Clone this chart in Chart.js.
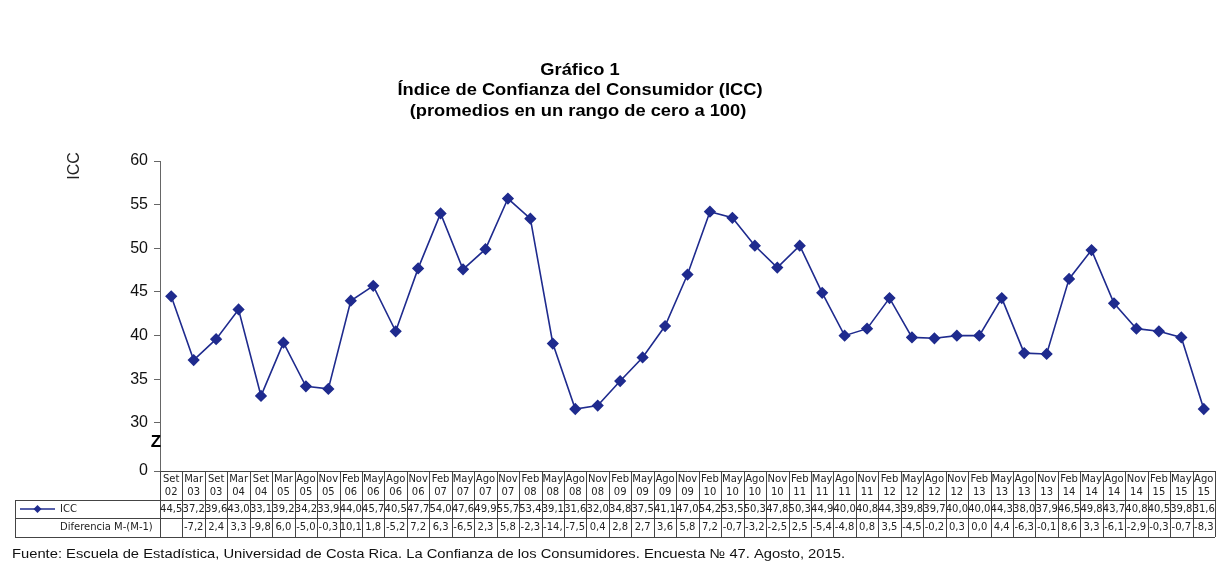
<!DOCTYPE html>
<html lang="es">
<head>
<meta charset="UTF-8">
<title>Índice de Confianza del Consumidor</title>
<script src="https://cdn.jsdelivr.net/npm/chart.js"></script>
<style>
    * { margin: 0; padding: 0; box-sizing: border-box; }
    body { width: 1232px; height: 574px; background: #ffffff; overflow: hidden; }
    #wrap { position: absolute; left: 0; top: 0; width: 1232px; height: 574px; }
</style>
</head>
<body>
<div id="wrap"><canvas id="iccChart"></canvas></div>
<script>
// periodos (mes año) del eje horizontal
const periodos = ['Set 02','Mar 03','Set 03','Mar 04','Set 04','Mar 05','Ago 05','Nov 05',
    'Feb 06','May 06','Ago 06','Nov 06','Feb 07','May 07','Ago 07','Nov 07',
    'Feb 08','May 08','Ago 08','Nov 08','Feb 09','May 09','Ago 09','Nov 09',
    'Feb 10','May 10','Ago 10','Nov 10','Feb 11','May 11','Ago 11','Nov 11',
    'Feb 12','May 12','Ago 12','Nov 12','Feb 13','May 13','Ago 13','Nov 13',
    'Feb 14','May 14','Ago 14','Nov 14','Feb 15','May 15','Ago 15'];

const icc = [44.5, 37.2, 39.6, 43.0, 33.1, 39.2, 34.2, 33.9,
    44.0, 45.7, 40.5, 47.7, 54.0, 47.6, 49.9, 55.7,
    53.4, 39.1, 31.6, 32.0, 34.8, 37.5, 41.1, 47.0,
    54.2, 53.5, 50.3, 47.8, 50.3, 44.9, 40.0, 40.8,
    44.3, 39.8, 39.7, 40.0, 40.0, 44.3, 38.0, 37.9,
    46.5, 49.8, 43.7, 40.8, 40.5, 39.8, 31.6];

// diferencia respecto al periodo anterior, tal como aparece en la tabla
const diferencia = ['', '-7,2', '2,4', '3,3', '-9,8', '6,0', '-5,0', '-0,3',
    '10,1', '1,8', '-5,2', '7,2', '6,3', '-6,5', '2,3', '5,8',
    '-2,3', '-14,', '-7,5', '0,4', '2,8', '2,7', '3,6', '5,8',
    '7,2', '-0,7', '-3,2', '-2,5', '2,5', '-5,4', '-4,8', '0,8',
    '3,5', '-4,5', '-0,2', '0,3', '0,0', '4,4', '-6,3', '-0,1',
    '8,6', '3,3', '-6,1', '-2,9', '-0,3', '-0,7', '-8,3'];

// eje vertical cortado: 0 y luego de 30 a 60
const yTicks = [30, 35, 40, 45, 50, 55, 60];
const yCero = 24.5;

const azul = '#1f2b8e';
const tablaFont = '10px "DejaVu Sans"';

// texto estirado en horizontal (el original esta ensanchado)
function textoAncho(ctx, txt, x, y, escala, align) {
    ctx.save();
    ctx.translate(x, y);
    ctx.scale(escala, 1);
    ctx.textAlign = align;
    ctx.fillText(txt, 0, 0);
    ctx.restore();
}

const tablaPlugin = {
    id: 'tabla',
    afterDraw(chart) {
        const ctx = chart.ctx;
        const x = chart.scales.x;
        const area = chart.chartArea;
        const colW = (area.right - area.left) / periodos.length;
        const yHead = area.bottom, yRow1 = 500, yRow2 = 518, yEnd = 537;
        const tLeft = 15;

        ctx.save();
        // titulos
        ctx.fillStyle = '#000';
        ctx.textBaseline = 'middle';
        ctx.font = 'bold 16px "Liberation Sans", Arial, sans-serif';
        const linea2 = 'Índice de Confianza del Consumidor (ICC)';
        const esc = 365 / ctx.measureText(linea2).width;
        textoAncho(ctx, 'Gráfico 1', 580, 71, esc, 'center');
        textoAncho(ctx, linea2, 580, 91, esc, 'center');
        textoAncho(ctx, '(promedios en un rango de cero a 100)', 578, 112, esc, 'center');

        // titulo del eje
        ctx.save();
        ctx.translate(75, 166);
        ctx.rotate(-Math.PI / 2);
        ctx.textAlign = 'center';
        ctx.font = '16px "Liberation Sans", Arial, sans-serif';
        ctx.fillStyle = '#222';
        ctx.fillText('ICC', 0, 0);
        ctx.restore();

        // marca de corte
        ctx.textAlign = 'center';
        ctx.font = 'bold 17px "Liberation Sans", Arial, sans-serif';
        ctx.fillStyle = '#000';
        ctx.fillText('Z', 156, 442);

        // rejilla de la tabla
        ctx.strokeStyle = '#444';
        ctx.lineWidth = 1;
        ctx.beginPath();
        ctx.moveTo(area.left, yHead + 0.5); ctx.lineTo(area.right, yHead + 0.5);
        ctx.moveTo(tLeft, yRow1 + 0.5); ctx.lineTo(area.right, yRow1 + 0.5);
        ctx.moveTo(tLeft, yRow2 + 0.5); ctx.lineTo(area.right, yRow2 + 0.5);
        ctx.moveTo(tLeft, yEnd + 0.5); ctx.lineTo(area.right, yEnd + 0.5);
        ctx.moveTo(tLeft + 0.5, yRow1); ctx.lineTo(tLeft + 0.5, yEnd);
        ctx.moveTo(area.left + 0.5, yHead); ctx.lineTo(area.left + 0.5, yEnd);
        for (let i = 0; i < periodos.length; i++) {
            const xr = Math.round(x.getPixelForValue(i) + colW / 2) + 0.5;
            ctx.moveTo(xr, yHead); ctx.lineTo(xr, yEnd);
        }
        ctx.stroke();

        // textos de la tabla
        ctx.font = tablaFont;
        ctx.fillStyle = '#222';
        periodos.forEach((p, i) => {
            const cx = x.getPixelForValue(i);
            const partes = p.split(' ');
            ctx.fillText(partes[0], cx, 479);
            ctx.fillText(partes[1], cx, 492);
            ctx.fillText(icc[i].toFixed(1).replace('.', ','), cx, 509.5);
            ctx.fillText(diferencia[i], cx, 527.5);
        });

        // leyenda de filas
        ctx.strokeStyle = azul;
        ctx.lineWidth = 1.5;
        ctx.beginPath();
        ctx.moveTo(20, 509); ctx.lineTo(55, 509);
        ctx.stroke();
        ctx.fillStyle = azul;
        ctx.beginPath();
        ctx.moveTo(37.5, 505); ctx.lineTo(41.5, 509); ctx.lineTo(37.5, 513); ctx.lineTo(33.5, 509);
        ctx.closePath();
        ctx.fill();
        ctx.fillStyle = '#222';
        ctx.textAlign = 'left';
        ctx.fillText('ICC', 60, 509.5);
        ctx.fillText('Diferencia M-(M-1)', 60, 527.5);

        // fuente
        ctx.font = '13px "Liberation Sans", Arial, sans-serif';
        ctx.fillStyle = '#111';
        ctx.textBaseline = 'alphabetic';
        const fuente = 'Fuente: Escuela de Estadística, Universidad de Costa Rica. La Confianza de los Consumidores. Encuesta № 47. Agosto, 2015.';
        const escF = 833 / ctx.measureText(fuente).width;
        textoAncho(ctx, fuente, 12, 558, escF, 'left');
        ctx.restore();
    }
};

new Chart(document.getElementById('iccChart'), {
    type: 'line',
    data: {
        labels: periodos,
        datasets: [{
            label: 'ICC',
            data: icc,
            borderColor: azul,
            backgroundColor: azul,
            borderWidth: 1.6,
            pointStyle: 'rectRot',
            pointRadius: 5,
            pointHoverRadius: 5,
            tension: 0
        }]
    },
    options: {
        responsive: true,
        maintainAspectRatio: false,
        animation: false,
        layout: { padding: { top: 161, right: 17, bottom: 103, left: 0 } },
        plugins: {
            legend: { display: false },
            tooltip: { enabled: false }
        },
        scales: {
            x: {
                type: 'category',
                display: false,
                offset: true
            },
            y: {
                min: yCero,
                max: 60,
                afterFit(scale) { scale.width = 160; },
                afterBuildTicks(scale) {
                    scale.ticks = [yCero].concat(yTicks).map(v => ({ value: v }));
                },
                ticks: {
                    color: '#111',
                    font: { size: 16, family: '"Liberation Sans", Arial, sans-serif' },
                    padding: 6,
                    callback: v => (v === yCero ? '0' : v)
                },
                grid: {
                    drawOnChartArea: false,
                    tickLength: 6,
                    color: '#666'
                },
                border: { color: '#666', width: 1 }
            }
        }
    },
    plugins: [tablaPlugin]
});
</script>
</body>
</html>
